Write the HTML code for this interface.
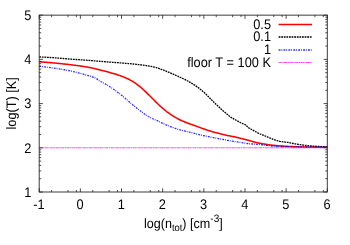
<!DOCTYPE html>
<html><head><meta charset="utf-8"><style>
html,body{margin:0;padding:0;background:#fff;}
svg{display:block;will-change:transform}
text{font-family:"Liberation Sans",sans-serif;font-size:12.8px;fill:#000;text-rendering:geometricPrecision}
</style></head><body>
<svg width="350" height="245" viewBox="0 0 350 245">
<rect width="350" height="245" fill="#fff"/>
<path d="M39.2,61.70 L40.2,61.78 L41.2,61.86 L42.2,61.94 L43.2,62.02 L44.2,62.11 L45.2,62.19 L46.2,62.28 L47.2,62.36 L48.2,62.45 L49.2,62.54 L50.2,62.63 L51.2,62.72 L52.2,62.82 L53.2,62.91 L54.2,63.00 L55.2,63.10 L56.2,63.20 L57.2,63.29 L58.2,63.39 L59.2,63.49 L60.2,63.59 L61.2,63.69 L62.2,63.80 L63.2,63.90 L64.2,64.01 L65.2,64.12 L66.2,64.23 L67.2,64.34 L68.2,64.45 L69.2,64.57 L70.2,64.69 L71.2,64.81 L72.2,64.93 L73.2,65.05 L74.2,65.18 L75.2,65.31 L76.2,65.43 L77.2,65.57 L78.2,65.70 L79.2,65.84 L80.2,65.98 L81.2,66.12 L82.2,66.27 L83.2,66.42 L84.2,66.57 L85.2,66.73 L86.2,66.90 L87.2,67.07 L88.2,67.24 L89.2,67.43 L90.2,67.62 L91.2,67.83 L92.2,68.04 L93.2,68.26 L94.2,68.49 L95.2,68.72 L96.2,68.95 L97.2,69.18 L98.2,69.43 L99.2,69.68 L100.2,69.94 L101.2,70.20 L102.2,70.47 L103.2,70.74 L104.2,71.01 L105.2,71.28 L106.2,71.56 L107.2,71.83 L108.2,72.10 L109.2,72.36 L110.2,72.63 L111.2,72.90 L112.2,73.17 L113.2,73.45 L114.2,73.74 L115.2,74.04 L116.2,74.36 L117.2,74.68 L118.2,75.01 L119.2,75.36 L120.2,75.71 L121.2,76.08 L122.2,76.46 L123.2,76.85 L124.2,77.26 L125.2,77.68 L126.2,78.12 L127.2,78.58 L128.2,79.06 L129.2,79.56 L130.2,80.08 L131.2,80.62 L132.2,81.19 L133.2,81.78 L134.2,82.42 L135.2,83.09 L136.2,83.81 L137.2,84.56 L138.2,85.33 L139.2,86.13 L140.2,86.94 L141.2,87.77 L142.2,88.63 L143.2,89.52 L144.2,90.45 L145.2,91.40 L146.2,92.37 L147.2,93.35 L148.2,94.33 L149.2,95.31 L150.2,96.29 L151.2,97.28 L152.2,98.29 L153.2,99.30 L154.2,100.32 L155.2,101.34 L156.2,102.34 L157.2,103.32 L158.2,104.29 L159.2,105.23 L160.2,106.15 L161.2,107.04 L162.2,107.92 L163.2,108.79 L164.2,109.63 L165.2,110.46 L166.2,111.25 L167.2,112.01 L168.2,112.74 L169.2,113.46 L170.2,114.15 L171.2,114.82 L172.2,115.46 L173.2,116.09 L174.2,116.71 L175.2,117.30 L176.2,117.88 L177.2,118.43 L178.2,118.96 L179.2,119.47 L180.2,119.96 L181.2,120.43 L182.2,120.89 L183.2,121.33 L184.2,121.75 L185.2,122.16 L186.2,122.55 L187.2,122.92 L188.2,123.30 L189.2,123.66 L190.2,124.03 L191.2,124.38 L192.2,124.72 L193.2,125.07 L194.2,125.41 L195.2,125.77 L196.2,126.14 L197.2,126.52 L198.2,126.89 L199.2,127.26 L200.2,127.63 L201.2,128.00 L202.2,128.36 L203.2,128.73 L204.2,129.09 L205.2,129.44 L206.2,129.79 L207.2,130.12 L208.2,130.44 L209.2,130.76 L210.2,131.06 L211.2,131.35 L212.2,131.64 L213.2,131.92 L214.2,132.20 L215.2,132.47 L216.2,132.75 L217.2,133.02 L218.2,133.29 L219.2,133.56 L220.2,133.82 L221.2,134.08 L222.2,134.34 L223.2,134.58 L224.2,134.82 L225.2,135.04 L226.2,135.26 L227.2,135.46 L228.2,135.65 L229.2,135.84 L230.2,136.03 L231.2,136.22 L232.2,136.42 L233.2,136.63 L234.2,136.83 L235.2,137.04 L236.2,137.25 L237.2,137.46 L238.2,137.69 L239.2,137.91 L240.2,138.15 L241.2,138.39 L242.2,138.65 L243.2,138.92 L244.2,139.19 L245.2,139.46 L246.2,139.74 L247.2,140.02 L248.2,140.29 L249.2,140.56 L250.2,140.84 L251.2,141.13 L252.2,141.42 L253.2,141.70 L254.2,141.98 L255.2,142.24 L256.2,142.49 L257.2,142.72 L258.2,142.94 L259.2,143.15 L260.2,143.35 L261.2,143.54 L262.2,143.72 L263.2,143.90 L264.2,144.06 L265.2,144.22 L266.2,144.38 L267.2,144.52 L268.2,144.66 L269.2,144.80 L270.2,144.93 L271.2,145.06 L272.2,145.17 L273.2,145.29 L274.2,145.39 L275.2,145.49 L276.2,145.58 L277.2,145.67 L278.2,145.75 L279.2,145.83 L280.2,145.91 L281.2,145.98 L282.2,146.05 L283.2,146.12 L284.2,146.19 L285.2,146.25 L286.2,146.32 L287.2,146.38 L288.2,146.44 L289.2,146.49 L290.2,146.54 L291.2,146.59 L292.2,146.63 L293.2,146.68 L294.2,146.72 L295.2,146.76 L296.2,146.80 L297.2,146.83 L298.2,146.86 L299.2,146.88 L300.2,146.90 L301.2,146.92 L302.2,146.94 L303.2,146.96 L304.2,146.97 L305.2,146.99 L306.2,147.01 L307.2,147.02 L308.2,147.04 L309.2,147.05 L310.2,147.07 L311.2,147.08 L312.2,147.09 L313.2,147.11 L314.2,147.12 L315.2,147.13 L316.2,147.14 L317.2,147.15 L318.2,147.16 L319.2,147.17 L320.2,147.17 L321.2,147.18 L322.2,147.19 L323.2,147.19 L324.2,147.20 L325.2,147.20 L326.2,147.20 L327.2,147.20 L327.3,147.20" stroke="#ff0000" stroke-width="1.55" fill="none" stroke-linejoin="round"/>
<path d="M39.2,56.90 L40.2,56.95 L41.2,57.00 L42.2,57.05 L43.2,57.10 L44.2,57.16 L45.2,57.21 L46.2,57.27 L47.2,57.33 L48.2,57.39 L49.2,57.45 L50.2,57.51 L51.2,57.57 L52.2,57.64 L53.2,57.71 L54.2,57.78 L55.2,57.85 L56.2,57.93 L57.2,58.00 L58.2,58.09 L59.2,58.17 L60.2,58.25 L61.2,58.34 L62.2,58.43 L63.2,58.51 L64.2,58.60 L65.2,58.68 L66.2,58.77 L67.2,58.85 L68.2,58.94 L69.2,59.02 L70.2,59.09 L71.2,59.17 L72.2,59.24 L73.2,59.31 L74.2,59.38 L75.2,59.45 L76.2,59.52 L77.2,59.59 L78.2,59.65 L79.2,59.72 L80.2,59.79 L81.2,59.86 L82.2,59.93 L83.2,60.00 L84.2,60.07 L85.2,60.14 L86.2,60.21 L87.2,60.28 L88.2,60.36 L89.2,60.44 L90.2,60.52 L91.2,60.60 L92.2,60.69 L93.2,60.77 L94.2,60.85 L95.2,60.93 L96.2,61.02 L97.2,61.10 L98.2,61.18 L99.2,61.26 L100.2,61.34 L101.2,61.43 L102.2,61.51 L103.2,61.59 L104.2,61.67 L105.2,61.75 L106.2,61.83 L107.2,61.91 L108.2,61.99 L109.2,62.06 L110.2,62.14 L111.2,62.21 L112.2,62.28 L113.2,62.35 L114.2,62.43 L115.2,62.50 L116.2,62.57 L117.2,62.64 L118.2,62.72 L119.2,62.79 L120.2,62.87 L121.2,62.95 L122.2,63.03 L123.2,63.11 L124.2,63.19 L125.2,63.28 L126.2,63.36 L127.2,63.45 L128.2,63.54 L129.2,63.63 L130.2,63.72 L131.2,63.82 L132.2,63.91 L133.2,64.01 L134.2,64.11 L135.2,64.21 L136.2,64.32 L137.2,64.42 L138.2,64.53 L139.2,64.64 L140.2,64.76 L141.2,64.88 L142.2,65.00 L143.2,65.14 L144.2,65.28 L145.2,65.43 L146.2,65.58 L147.2,65.74 L148.2,65.89 L149.2,66.05 L150.2,66.23 L151.2,66.41 L152.2,66.60 L153.2,66.81 L154.2,67.04 L155.2,67.30 L156.2,67.59 L157.2,67.90 L158.2,68.23 L159.2,68.57 L160.2,68.92 L161.2,69.28 L162.2,69.64 L163.2,70.00 L164.2,70.39 L165.2,70.79 L166.2,71.20 L167.2,71.61 L168.2,72.04 L169.2,72.46 L170.2,72.89 L171.2,73.31 L172.2,73.74 L173.2,74.17 L174.2,74.61 L175.2,75.04 L176.2,75.49 L177.2,75.94 L178.2,76.39 L179.2,76.85 L180.2,77.32 L181.2,77.78 L182.2,78.25 L183.2,78.72 L184.2,79.20 L185.2,79.70 L186.2,80.20 L187.2,80.72 L188.2,81.26 L189.2,81.82 L190.2,82.39 L191.2,82.97 L192.2,83.57 L193.2,84.19 L194.2,84.83 L195.2,85.48 L196.2,86.16 L197.2,86.86 L198.2,87.60 L199.2,88.36 L200.2,89.14 L201.2,89.96 L202.2,90.79 L203.2,91.65 L204.2,92.54 L205.2,93.47 L206.2,94.44 L207.2,95.43 L208.2,96.45 L209.2,97.48 L210.2,98.50 L211.2,99.51 L212.2,100.50 L213.2,101.48 L214.2,102.46 L215.2,103.45 L216.2,104.43 L217.2,105.41 L218.2,106.37 L219.2,107.32 L220.2,108.24 L221.2,109.15 L222.2,110.03 L223.2,110.89 L224.2,111.73 L225.2,112.57 L226.2,113.41 L227.2,114.26 L228.2,115.09 L229.2,115.90 L230.2,116.65 L231.2,117.34 L232.2,117.98 L233.2,118.58 L234.2,119.17 L235.2,119.73 L236.2,120.29 L237.2,120.85 L238.2,121.40 L239.2,121.94 L240.2,122.46 L241.2,122.97 L242.2,123.45 L243.2,123.85 L244.2,124.22 L245.2,124.67 L246.2,125.40 L247.2,126.52 L248.2,127.43 L249.2,128.12 L250.2,128.74 L251.2,129.30 L252.2,129.84 L253.2,130.38 L254.2,130.94 L255.2,131.49 L256.2,132.04 L257.2,132.57 L258.2,133.08 L259.2,133.55 L260.2,134.00 L261.2,134.41 L262.2,134.81 L263.2,135.19 L264.2,135.58 L265.2,135.98 L266.2,136.40 L267.2,136.82 L268.2,137.25 L269.2,137.68 L270.2,138.11 L271.2,138.53 L272.2,138.93 L273.2,139.31 L274.2,139.67 L275.2,140.01 L276.2,140.35 L277.2,140.68 L278.2,140.98 L279.2,141.24 L280.2,141.44 L281.2,141.59 L282.2,141.72 L283.2,141.84 L284.2,141.94 L285.2,142.05 L286.2,142.17 L287.2,142.32 L288.2,142.48 L289.2,142.67 L290.2,142.87 L291.2,143.08 L292.2,143.29 L293.2,143.49 L294.2,143.68 L295.2,143.86 L296.2,144.05 L297.2,144.23 L298.2,144.40 L299.2,144.57 L300.2,144.73 L301.2,144.87 L302.2,145.00 L303.2,145.13 L304.2,145.25 L305.2,145.36 L306.2,145.46 L307.2,145.56 L308.2,145.66 L309.2,145.76 L310.2,145.85 L311.2,145.95 L312.2,146.04 L313.2,146.12 L314.2,146.20 L315.2,146.27 L316.2,146.33 L317.2,146.39 L318.2,146.44 L319.2,146.50 L320.2,146.55 L321.2,146.60 L322.2,146.64 L323.2,146.68 L324.2,146.72 L325.2,146.75 L326.2,146.78 L327.2,146.80 L327.3,146.80" stroke="#000" stroke-width="1.3" fill="none" stroke-dasharray="1.8,0.8" stroke-linejoin="round"/>
<path d="M39.2,66.30 L40.2,66.40 L41.2,66.51 L42.2,66.62 L43.2,66.73 L44.2,66.85 L45.2,66.97 L46.2,67.09 L47.2,67.21 L48.2,67.34 L49.2,67.47 L50.2,67.60 L51.2,67.74 L52.2,67.87 L53.2,68.01 L54.2,68.16 L55.2,68.30 L56.2,68.45 L57.2,68.60 L58.2,68.75 L59.2,68.91 L60.2,69.07 L61.2,69.23 L62.2,69.39 L63.2,69.56 L64.2,69.74 L65.2,69.92 L66.2,70.10 L67.2,70.29 L68.2,70.48 L69.2,70.68 L70.2,70.88 L71.2,71.09 L72.2,71.31 L73.2,71.53 L74.2,71.77 L75.2,72.01 L76.2,72.26 L77.2,72.51 L78.2,72.78 L79.2,73.04 L80.2,73.32 L81.2,73.59 L82.2,73.88 L83.2,74.16 L84.2,74.45 L85.2,74.75 L86.2,75.04 L87.2,75.34 L88.2,75.63 L89.2,75.92 L90.2,76.20 L91.2,76.49 L92.2,76.80 L93.2,77.13 L94.2,77.51 L95.2,77.92 L96.2,78.41 L97.2,79.12 L98.2,79.92 L99.2,80.58 L100.2,81.18 L101.2,81.75 L102.2,82.29 L103.2,82.83 L104.2,83.36 L105.2,83.90 L106.2,84.46 L107.2,85.06 L108.2,85.68 L109.2,86.32 L110.2,86.97 L111.2,87.64 L112.2,88.32 L113.2,89.01 L114.2,89.71 L115.2,90.43 L116.2,91.16 L117.2,91.91 L118.2,92.67 L119.2,93.45 L120.2,94.24 L121.2,95.05 L122.2,95.86 L123.2,96.67 L124.2,97.50 L125.2,98.34 L126.2,99.20 L127.2,100.08 L128.2,100.95 L129.2,101.83 L130.2,102.70 L131.2,103.55 L132.2,104.38 L133.2,105.20 L134.2,106.02 L135.2,106.83 L136.2,107.63 L137.2,108.42 L138.2,109.20 L139.2,109.97 L140.2,110.73 L141.2,111.47 L142.2,112.22 L143.2,112.98 L144.2,113.72 L145.2,114.45 L146.2,115.16 L147.2,115.83 L148.2,116.46 L149.2,117.04 L150.2,117.58 L151.2,118.07 L152.2,118.53 L153.2,118.97 L154.2,119.40 L155.2,119.82 L156.2,120.25 L157.2,120.68 L158.2,121.14 L159.2,121.61 L160.2,122.09 L161.2,122.57 L162.2,123.05 L163.2,123.53 L164.2,124.00 L165.2,124.45 L166.2,124.89 L167.2,125.31 L168.2,125.73 L169.2,126.14 L170.2,126.54 L171.2,126.93 L172.2,127.30 L173.2,127.66 L174.2,128.01 L175.2,128.34 L176.2,128.67 L177.2,128.99 L178.2,129.29 L179.2,129.59 L180.2,129.88 L181.2,130.16 L182.2,130.43 L183.2,130.68 L184.2,130.92 L185.2,131.15 L186.2,131.37 L187.2,131.59 L188.2,131.81 L189.2,132.04 L190.2,132.28 L191.2,132.53 L192.2,132.79 L193.2,133.06 L194.2,133.34 L195.2,133.62 L196.2,133.90 L197.2,134.17 L198.2,134.43 L199.2,134.68 L200.2,134.91 L201.2,135.13 L202.2,135.34 L203.2,135.55 L204.2,135.75 L205.2,135.96 L206.2,136.16 L207.2,136.36 L208.2,136.56 L209.2,136.76 L210.2,136.97 L211.2,137.17 L212.2,137.37 L213.2,137.57 L214.2,137.77 L215.2,137.96 L216.2,138.16 L217.2,138.36 L218.2,138.55 L219.2,138.74 L220.2,138.94 L221.2,139.13 L222.2,139.32 L223.2,139.51 L224.2,139.70 L225.2,139.89 L226.2,140.08 L227.2,140.27 L228.2,140.46 L229.2,140.65 L230.2,140.84 L231.2,141.01 L232.2,141.18 L233.2,141.34 L234.2,141.50 L235.2,141.65 L236.2,141.80 L237.2,141.94 L238.2,142.08 L239.2,142.23 L240.2,142.38 L241.2,142.54 L242.2,142.70 L243.2,142.87 L244.2,143.03 L245.2,143.20 L246.2,143.35 L247.2,143.50 L248.2,143.63 L249.2,143.74 L250.2,143.84 L251.2,143.92 L252.2,143.99 L253.2,144.07 L254.2,144.13 L255.2,144.21 L256.2,144.28 L257.2,144.37 L258.2,144.46 L259.2,144.56 L260.2,144.66 L261.2,144.77 L262.2,144.88 L263.2,144.99 L264.2,145.10 L265.2,145.21 L266.2,145.33 L267.2,145.45 L268.2,145.58 L269.2,145.72 L270.2,145.86 L271.2,145.99 L272.2,146.11 L273.2,146.20 L274.2,146.26 L275.2,146.30 L276.2,146.34 L277.2,146.38 L278.2,146.41 L279.2,146.45 L280.2,146.47 L281.2,146.50 L282.2,146.52 L283.2,146.55 L284.2,146.57 L285.2,146.59 L286.2,146.61 L287.2,146.63 L288.2,146.64 L289.2,146.66 L290.2,146.68 L291.2,146.70 L292.2,146.73 L293.2,146.75 L294.2,146.77 L295.2,146.79 L296.2,146.81 L297.2,146.83 L298.2,146.85 L299.2,146.87 L300.2,146.89 L301.2,146.91 L302.2,146.92 L303.2,146.94 L304.2,146.96 L305.2,146.98 L306.2,147.00 L307.2,147.02 L308.2,147.03 L309.2,147.05 L310.2,147.07 L311.2,147.09 L312.2,147.10 L313.2,147.12 L314.2,147.13 L315.2,147.15 L316.2,147.16 L317.2,147.18 L318.2,147.19 L319.2,147.21 L320.2,147.22 L321.2,147.23 L322.2,147.24 L323.2,147.26 L324.2,147.27 L325.2,147.28 L326.2,147.29 L327.2,147.30 L327.3,147.30" stroke="#0000ff" stroke-width="1.3" fill="none" stroke-dasharray="1.9,0.9,0.9,1.2" stroke-opacity="0.82" stroke-linejoin="round"/>
<path d="M39.2,147.79 H327.3" stroke="#ff00ff" stroke-width="1" fill="none" stroke-dasharray="3.2,0.5,1.3,0.5" stroke-opacity="0.72"/>
<rect x="39.2" y="15.15" width="288.1" height="176.85" fill="none" stroke="#333" stroke-width="0.95"/>
<path d="M39.20,192.0 v-3.7 M39.20,15.15 v3.7 M51.59,192.0 v-2 M51.59,15.15 v2 M67.97,192.0 v-2 M67.97,15.15 v2 M76.37,192.0 v-2 M76.37,15.15 v2 M80.36,192.0 v-3.7 M80.36,15.15 v3.7 M92.75,192.0 v-2 M92.75,15.15 v2 M109.12,192.0 v-2 M109.12,15.15 v2 M117.53,192.0 v-2 M117.53,15.15 v2 M121.51,192.0 v-3.7 M121.51,15.15 v3.7 M133.90,192.0 v-2 M133.90,15.15 v2 M150.28,192.0 v-2 M150.28,15.15 v2 M158.68,192.0 v-2 M158.68,15.15 v2 M162.67,192.0 v-3.7 M162.67,15.15 v3.7 M175.06,192.0 v-2 M175.06,15.15 v2 M191.44,192.0 v-2 M191.44,15.15 v2 M199.84,192.0 v-2 M199.84,15.15 v2 M203.83,192.0 v-3.7 M203.83,15.15 v3.7 M216.22,192.0 v-2 M216.22,15.15 v2 M232.60,192.0 v-2 M232.60,15.15 v2 M241.00,192.0 v-2 M241.00,15.15 v2 M244.99,192.0 v-3.7 M244.99,15.15 v3.7 M257.38,192.0 v-2 M257.38,15.15 v2 M273.75,192.0 v-2 M273.75,15.15 v2 M282.15,192.0 v-2 M282.15,15.15 v2 M286.14,192.0 v-3.7 M286.14,15.15 v3.7 M298.53,192.0 v-2 M298.53,15.15 v2 M314.91,192.0 v-2 M314.91,15.15 v2 M323.31,192.0 v-2 M323.31,15.15 v2 M327.30,192.0 v-3.7 M327.30,15.15 v3.7 M39.2,192.00 h3.7 M327.3,192.00 h-3.7 M39.2,178.69 h2 M327.3,178.69 h-2 M39.2,170.91 h2 M327.3,170.91 h-2 M39.2,165.38 h2 M327.3,165.38 h-2 M39.2,161.10 h2 M327.3,161.10 h-2 M39.2,157.60 h2 M327.3,157.60 h-2 M39.2,154.64 h2 M327.3,154.64 h-2 M39.2,152.07 h2 M327.3,152.07 h-2 M39.2,149.81 h2 M327.3,149.81 h-2 M39.2,147.79 h3.7 M327.3,147.79 h-3.7 M39.2,134.48 h2 M327.3,134.48 h-2 M39.2,126.69 h2 M327.3,126.69 h-2 M39.2,121.17 h2 M327.3,121.17 h-2 M39.2,116.88 h2 M327.3,116.88 h-2 M39.2,113.38 h2 M327.3,113.38 h-2 M39.2,110.42 h2 M327.3,110.42 h-2 M39.2,107.86 h2 M327.3,107.86 h-2 M39.2,105.60 h2 M327.3,105.60 h-2 M39.2,103.58 h3.7 M327.3,103.58 h-3.7 M39.2,90.27 h2 M327.3,90.27 h-2 M39.2,82.48 h2 M327.3,82.48 h-2 M39.2,76.96 h2 M327.3,76.96 h-2 M39.2,72.67 h2 M327.3,72.67 h-2 M39.2,69.17 h2 M327.3,69.17 h-2 M39.2,66.21 h2 M327.3,66.21 h-2 M39.2,63.65 h2 M327.3,63.65 h-2 M39.2,61.39 h2 M327.3,61.39 h-2 M39.2,59.36 h3.7 M327.3,59.36 h-3.7 M39.2,46.05 h2 M327.3,46.05 h-2 M39.2,38.27 h2 M327.3,38.27 h-2 M39.2,32.74 h2 M327.3,32.74 h-2 M39.2,28.46 h2 M327.3,28.46 h-2 M39.2,24.96 h2 M327.3,24.96 h-2 M39.2,22.00 h2 M327.3,22.00 h-2 M39.2,19.43 h2 M327.3,19.43 h-2 M39.2,17.17 h2 M327.3,17.17 h-2 M39.2,15.15 h3.7 M327.3,15.15 h-3.7" stroke="#222" stroke-width="0.8" fill="none"/>
<text transform="translate(38.90,209.2) scale(1,1.08)" text-anchor="middle">-1</text><text transform="translate(80.06,209.2) scale(1,1.08)" text-anchor="middle">0</text><text transform="translate(121.21,209.2) scale(1,1.08)" text-anchor="middle">1</text><text transform="translate(162.37,209.2) scale(1,1.08)" text-anchor="middle">2</text><text transform="translate(203.53,209.2) scale(1,1.08)" text-anchor="middle">3</text><text transform="translate(244.69,209.2) scale(1,1.08)" text-anchor="middle">4</text><text transform="translate(285.84,209.2) scale(1,1.08)" text-anchor="middle">5</text><text transform="translate(327.00,209.2) scale(1,1.08)" text-anchor="middle">6</text>
<text transform="translate(31.3,196.80) scale(1,1.08)" text-anchor="end">1</text><text transform="translate(31.3,152.59) scale(1,1.08)" text-anchor="end">2</text><text transform="translate(31.3,108.38) scale(1,1.08)" text-anchor="end">3</text><text transform="translate(31.3,64.16) scale(1,1.08)" text-anchor="end">4</text><text transform="translate(31.3,19.95) scale(1,1.08)" text-anchor="end">5</text>
<text transform="translate(271,28.7) scale(1,1.08)" text-anchor="end">0.5</text>
<text transform="translate(271,41.3) scale(1,1.08)" text-anchor="end">0.1</text>
<text transform="translate(271,53.9) scale(1,1.08)" text-anchor="end">1</text>
<text transform="translate(271,66.5) scale(1,1.08)" text-anchor="end">floor T = 100 K</text>
<path d="M278.6,24.5 H312" stroke="#ff0000" stroke-width="1.6"/>
<path d="M278.6,37 H312" stroke="#000" stroke-width="1.3" stroke-dasharray="1.8,0.8"/>
<path d="M278.6,50 H312" stroke="#0000ff" stroke-width="1.3" stroke-dasharray="1.9,0.9,0.9,1.2" stroke-opacity="0.82"/>
<path d="M278.6,62.5 H312" stroke="#ff00ff" stroke-width="1" stroke-dasharray="3.2,0.5,1.3,0.5" stroke-opacity="0.72"/>
<text transform="translate(143.9,227.8) scale(1,1.08)" style="font-size:12.6px">log(n<tspan dy="3.3" style="font-size:9.4px">tot</tspan><tspan dy="-3.3">) [cm</tspan><tspan dy="-5.8" style="font-size:10px">-3</tspan><tspan dy="5.8">]</tspan></text>
<text transform="translate(15.6,103.4) rotate(-90) scale(1,1.08)" text-anchor="middle" style="font-size:12.7px">log(T) [K]</text>
</svg></body></html>
